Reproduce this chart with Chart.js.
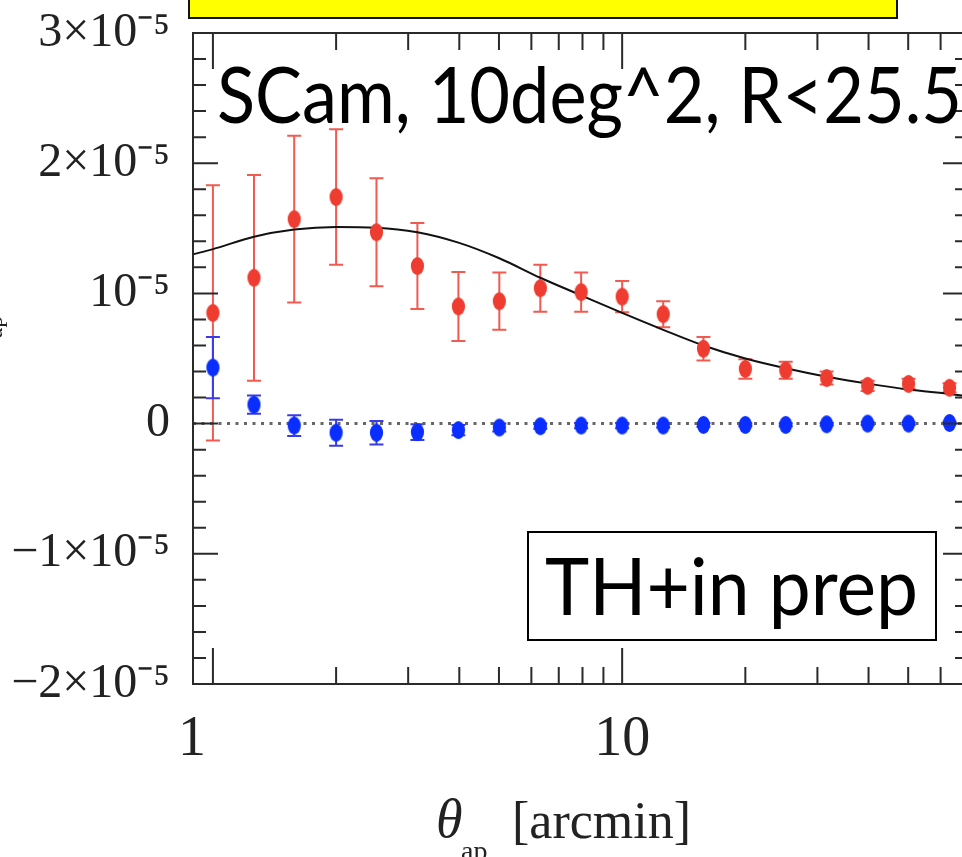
<!DOCTYPE html>
<html>
<head>
<meta charset="utf-8">
<script src="https://cdn.jsdelivr.net/npm/chart.js@4.4.0/dist/chart.umd.min.js"></script>
<style>
  html, body { margin: 0; padding: 0; background: #fff; overflow: hidden; }
  #wrap { position: relative; width: 1000px; height: 857px; }
</style>
</head>
<body>
<div id="wrap"><canvas id="c" width="1000" height="857"></canvas></div>
<script>
// values are in units of 1e-5
const theta = [1, 1.26, 1.58, 2, 2.51, 3.16, 3.98, 5.01, 6.31, 7.94, 10, 12.6, 15.8, 20, 25.1, 31.6, 39.8, 50.1, 63.1];
const eMode = [0.85, 1.12, 1.57, 1.74, 1.47, 1.21, 0.90, 0.94, 1.04, 1.01, 0.975, 0.84, 0.575, 0.42, 0.41, 0.35, 0.29, 0.305, 0.275];
const eErr = [0.98, 0.79, 0.64, 0.52, 0.415, 0.33, 0.265, 0.22, 0.18, 0.15, 0.12, 0.10, 0.09, 0.075, 0.065, 0.05, 0.04, 0.04, 0.035];
const bMode = [0.43, 0.145, -0.015, -0.07, -0.07, -0.065, -0.05, -0.03, -0.02, -0.015, -0.015, -0.015, -0.01, -0.01, -0.01, -0.005, 0, 0, 0.005];
const bErr = [0.235, 0.07, 0.08, 0.10, 0.09, 0.06, 0.04, 0.03, 0.02, 0.02, 0.02, 0.015, 0.015, 0.01, 0.01, 0.01, 0.01, 0.01, 0.01];

const modelTheta = [0.894, 1, 1.26, 1.58, 2, 2.51, 3.16, 3.98, 5.01, 6.31, 7.94, 10, 12.6, 15.8, 20, 25.1, 31.6, 39.8, 50.1, 63.1, 70];
const modelValue = [1.30, 1.34, 1.435, 1.49, 1.51, 1.505, 1.47, 1.39, 1.27, 1.12, 0.985, 0.85, 0.72, 0.6, 0.5, 0.425, 0.36, 0.307, 0.262, 0.228, 0.21];

const xTickValues = [1, 10];
const xTickLabels = ['1   ', '10'];
const xMinorTicks = [2, 3, 4, 5, 6, 7, 8, 9, 20, 30, 40, 50, 60];
const yTickLabels = ['\u22122\u00d710\u207b\u2075', '\u22121\u00d710\u207b\u2075', '0', '10\u207b\u2075', '2\u00d710\u207b\u2075', '3\u00d710\u207b\u2075'];

const RED = '#ee3d30', RED_BAR = '#f05a50';
const BLUE = '#0a2eff', BLUE_BAR = '#3a3ae8';

function ellipse(color) {
  const c = document.createElement('canvas');
  c.width = 15; c.height = 20;
  const g = c.getContext('2d');
  g.fillStyle = color;
  g.beginPath();
  g.ellipse(7.5, 10, 6.6, 9, 0, 0, Math.PI * 2);
  g.fill();
  return c;
}

function drawBars(ctx, x, y, vals, errs, color) {
  ctx.strokeStyle = color;
  ctx.lineWidth = 2;
  theta.forEach((t, i) => {
    const px = x.getPixelForValue(t);
    const top = y.getPixelForValue(vals[i] + errs[i]);
    const bot = y.getPixelForValue(vals[i] - errs[i]);
    ctx.beginPath();
    ctx.moveTo(px, top); ctx.lineTo(px, bot);
    ctx.moveTo(px - 7, top); ctx.lineTo(px + 7, top);
    ctx.moveTo(px - 7, bot); ctx.lineTo(px + 7, bot);
    ctx.stroke();
  });
}

// draw text squeezed to a given width (Gill Sans is narrower than Lato)
function fitText(ctx, text, x, baseline, width) {
  const w = ctx.measureText(text).width;
  ctx.save();
  ctx.translate(x, baseline);
  ctx.scale(width / w, 1);
  ctx.fillText(text, 0, 0);
  ctx.restore();
}

const decor = {
  id: 'decor',
  beforeDatasetsDraw(chart) {
    const { ctx, chartArea: ca, scales: { x, y } } = chart;
    ctx.save();
    ctx.beginPath();
    ctx.rect(ca.left, ca.top, ca.right - ca.left, ca.bottom - ca.top);
    ctx.clip();
    drawBars(ctx, x, y, eMode, eErr, RED_BAR);
    drawBars(ctx, x, y, bMode, bErr, BLUE_BAR);
    ctx.restore();
  },
  afterDatasetsDraw(chart) {
    const { ctx, chartArea: ca, scales: { x, y } } = chart;
    ctx.save();
    ctx.strokeStyle = '#2a2a2a';
    ctx.lineWidth = 2;
    ctx.strokeRect(ca.left, ca.top, ca.right - ca.left, ca.bottom - ca.top);
    ctx.beginPath();
    const tx = (v, len) => {
      const px = x.getPixelForValue(v);
      ctx.moveTo(px, ca.bottom); ctx.lineTo(px, ca.bottom - len);
      ctx.moveTo(px, ca.top); ctx.lineTo(px, ca.top + len);
    };
    const ty = (v, len) => {
      const py = y.getPixelForValue(v);
      ctx.moveTo(ca.left, py); ctx.lineTo(ca.left + len, py);
      ctx.moveTo(ca.right, py); ctx.lineTo(ca.right - len, py);
    };
    xTickValues.forEach(v => tx(v, 36));
    xMinorTicks.forEach(v => tx(v, 17));
    for (let k = -10; k <= 15; k++) ty(k / 5, k % 5 === 0 ? 25 : 13);
    ctx.stroke();

    // x axis title
    ctx.fillStyle = '#222';
    ctx.textBaseline = 'alphabetic';
    ctx.font = 'italic 54px "Liberation Serif"';
    ctx.fillText('\u03b8', 436, 837);
    ctx.font = '28px "Liberation Serif"';
    ctx.fillText('ap', 461, 860);
    ctx.font = '52px "Liberation Serif"';
    ctx.fillText('[arcmin]', 512, 838);

    // clipped y axis title sliver
    ctx.translate(2, 327);
    ctx.rotate(-Math.PI / 2);
    ctx.font = '24px "Liberation Serif"';
    ctx.textAlign = 'center';
    ctx.fillText('ap', 0, 0);
    ctx.restore();
  },
  afterDraw(chart) {
    const ctx = chart.ctx;
    ctx.save();
    // yellow header box (cropped)
    ctx.fillStyle = '#ffff00';
    ctx.fillRect(189, -10, 708, 28);
    ctx.strokeStyle = '#111';
    ctx.lineWidth = 2;
    ctx.strokeRect(189, -10, 708, 28);

    ctx.fillStyle = '#000';
    ctx.textBaseline = 'alphabetic';
    ctx.font = '78px Lato';
    fitText(ctx, 'SCam, 10deg^2, R<25.5', 217, 123, 745);

    ctx.fillStyle = '#fff';
    ctx.fillRect(528, 532, 408, 108);
    ctx.strokeStyle = '#000';
    ctx.strokeRect(528, 532, 408, 108);
    ctx.fillStyle = '#000';
    ctx.font = '80px Lato';
    fitText(ctx, 'TH+in prep', 545, 615, 373);
    ctx.restore();
  }
};

new Chart(document.getElementById('c'), {
  type: 'scatter',
  data: {
    datasets: [
      {
        label: 'E mode',
        data: theta.map((t, i) => ({ x: t, y: eMode[i] })),
        pointStyle: ellipse(RED),
        order: 1
      },
      {
        label: 'B mode',
        data: theta.map((t, i) => ({ x: t, y: bMode[i] })),
        pointStyle: ellipse(BLUE),
        order: 2
      },
      {
        label: 'model',
        type: 'line',
        data: modelTheta.map((t, i) => ({ x: t, y: modelValue[i] })),
        borderColor: '#111',
        borderWidth: 2,
        pointRadius: 0,
        cubicInterpolationMode: 'monotone',
        order: 3
      },
      {
        label: 'zero',
        type: 'line',
        data: [{ x: 0.894, y: 0 }, { x: 70, y: 0 }],
        borderColor: '#666',
        borderWidth: 3,
        borderDash: [3, 5.5],
        pointRadius: 0,
        order: 4
      }
    ]
  },
  options: {
    responsive: false,
    animation: false,
    layout: { padding: { top: 33, right: 32, left: 0, bottom: 0 } },
    plugins: { legend: { display: false }, tooltip: { enabled: false } },
    scales: {
      x: {
        type: 'logarithmic',
        min: 0.894,
        max: 70,
        grid: { display: false, drawTicks: false },
        border: { display: false },
        afterBuildTicks: s => { s.ticks = xTickValues.map(v => ({ value: v })); },
        afterFit: s => { s.height = 173; s.paddingLeft = 0; s.paddingRight = 0; },
        ticks: {
          autoSkip: false,
          maxRotation: 0,
          padding: 23,
          color: '#222',
          font: { family: 'Liberation Serif', size: 56 },
          callback: (v, i) => xTickLabels[i]
        }
      },
      y: {
        min: -2,
        max: 3,
        grid: { display: false, drawTicks: false },
        border: { display: false },
        afterFit: s => { s.width = 193; s.paddingTop = 0; s.paddingBottom = 0; },
        ticks: {
          stepSize: 1,
          padding: 23,
          color: '#222',
          font: { family: 'Liberation Serif', size: 48 },
          callback: (v, i) => yTickLabels[i]
        }
      }
    }
  },
  plugins: [decor]
});
</script>
</body>
</html>
